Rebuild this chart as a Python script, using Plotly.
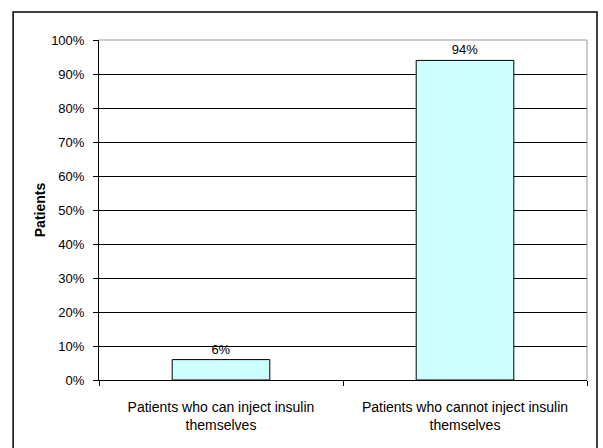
import plotly.graph_objects as go

categories = [
    "Patients who can inject insulin<br>themselves",
    "Patients who cannot inject insulin<br>themselves",
]
shares = [0.06, 0.94]
y_ticks = [i / 10 for i in range(11)]

FONT = "Liberation Sans, Arial, sans-serif"

fig = go.Figure(
    go.Bar(
        x=categories,
        y=shares,
        width=0.4,
        marker=dict(color="#CCFFFF", line=dict(color="black", width=1)),
        texttemplate="%{y:.0%}",
        textposition="outside",
        textfont=dict(family=FONT, size=13, color="black"),
        cliponaxis=False,
    )
)

fig.update_layout(
    width=603,
    height=448,
    margin=dict(l=99, r=16, t=40, b=68),
    paper_bgcolor="white",
    plot_bgcolor="white",
    font=dict(family=FONT, size=13, color="black"),
    showlegend=False,
    bargap=0.6,
)

fig.update_yaxes(
    range=[0, 1],
    tickvals=y_ticks,
    tickformat=".0%",
    tickfont=dict(family=FONT, size=13),
    ticklabelstandoff=6,
    showgrid=True,
    gridcolor="black",
    gridwidth=1,
    showline=True,
    linecolor="black",
    linewidth=1,
    ticks="outside",
    ticklen=5,
    tickcolor="black",
    zeroline=False,
    automargin=False,
    title=dict(text="<b>Patients</b>", font=dict(family=FONT, size=14), standoff=2),
)

fig.update_xaxes(
    showline=True,
    linecolor="black",
    linewidth=1,
    ticks="outside",
    tickson="boundaries",
    ticklen=5,
    tickcolor="black",
    showgrid=False,
    tickangle=0,
    automargin=False,
    tickfont=dict(family=FONT, size=14),
    ticklabelstandoff=14,
)

# grey plot-area frame on top and right
fig.add_shape(type="line", xref="paper", yref="paper", x0=0, x1=1, y0=1, y1=1,
              line=dict(color="#999999", width=1), layer="above")
fig.add_shape(type="line", xref="paper", yref="paper", x0=1, x1=1, y0=0, y1=1,
              line=dict(color="#999999", width=1), layer="above")

# outer chart border
fig.add_shape(type="rect", xref="paper", yref="paper",
              x0=-0.176, x1=1.0205, y0=-0.3, y1=1.0824,
              line=dict(color="black", width=1.5), layer="above")

fig.write_html("out.html")
